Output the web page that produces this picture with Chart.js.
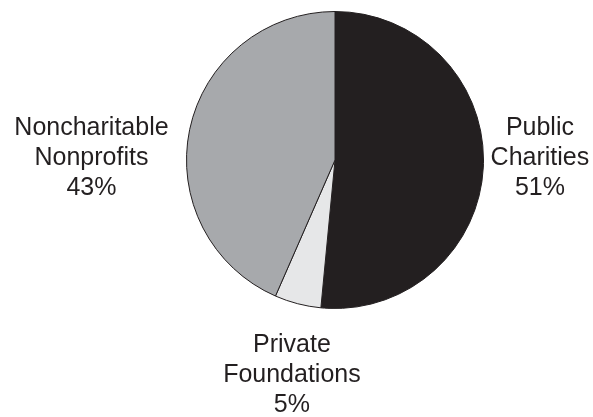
<!DOCTYPE html>
<html>
<head>
<meta charset="utf-8">
<script src="https://cdn.jsdelivr.net/npm/chart.js@4"></script>
<style>
  html, body { margin: 0; padding: 0; background: #fff; }
  #wrap { width: 593px; height: 417px; }
</style>
</head>
<body>
<div id="wrap"><canvas id="pie" width="593" height="417"></canvas></div>
<script>
const categories = ["Public Charities", "Private Foundations", "Noncharitable Nonprofits"];
const labelLines = [["Public", "Charities"], ["Private", "Foundations"], ["Noncharitable", "Nonprofits"]];
const shares = [51, 5, 43];
const colors = ["#231f20", "#e6e7e8", "#a7a9ac"];

// label anchor offsets from the pie centre, in multiples of the radius
const labelOffsets = [[1.38, -0.17], [-0.29, 1.29], [-1.64, -0.17]];

const outsideLabels = {
  id: "outsideLabels",
  afterDraw(chart) {
    const ctx = chart.ctx;
    const arcs = chart.getDatasetMeta(0).data;
    ctx.save();
    ctx.font = "25px 'Liberation Sans', Arial, sans-serif";
    ctx.fillStyle = "#231f20";
    ctx.textAlign = "center";
    ctx.textBaseline = "alphabetic";
    arcs.forEach((arc, i) => {
      const r = arc.outerRadius;
      const x = arc.x + labelOffsets[i][0] * r;
      let y = arc.y + labelOffsets[i][1] * r;
      const lines = labelLines[i].concat([shares[i] + "%"]);
      lines.forEach(line => {
        ctx.fillText(line, x, y);
        y += 30;
      });
    });
    ctx.restore();
  }
};

new Chart(document.getElementById("pie"), {
  type: "pie",
  data: {
    labels: categories,
    datasets: [{
      data: shares,
      backgroundColor: colors,
      borderColor: "#231f20",
      borderWidth: 1
    }]
  },
  options: {
    responsive: false,
    animation: false,
    layout: { padding: { left: 77, right: 0, top: 11, bottom: 108 } },
    plugins: {
      legend: { display: false },
      tooltip: { enabled: false }
    }
  },
  plugins: [outsideLabels]
});
</script>
</body>
</html>
